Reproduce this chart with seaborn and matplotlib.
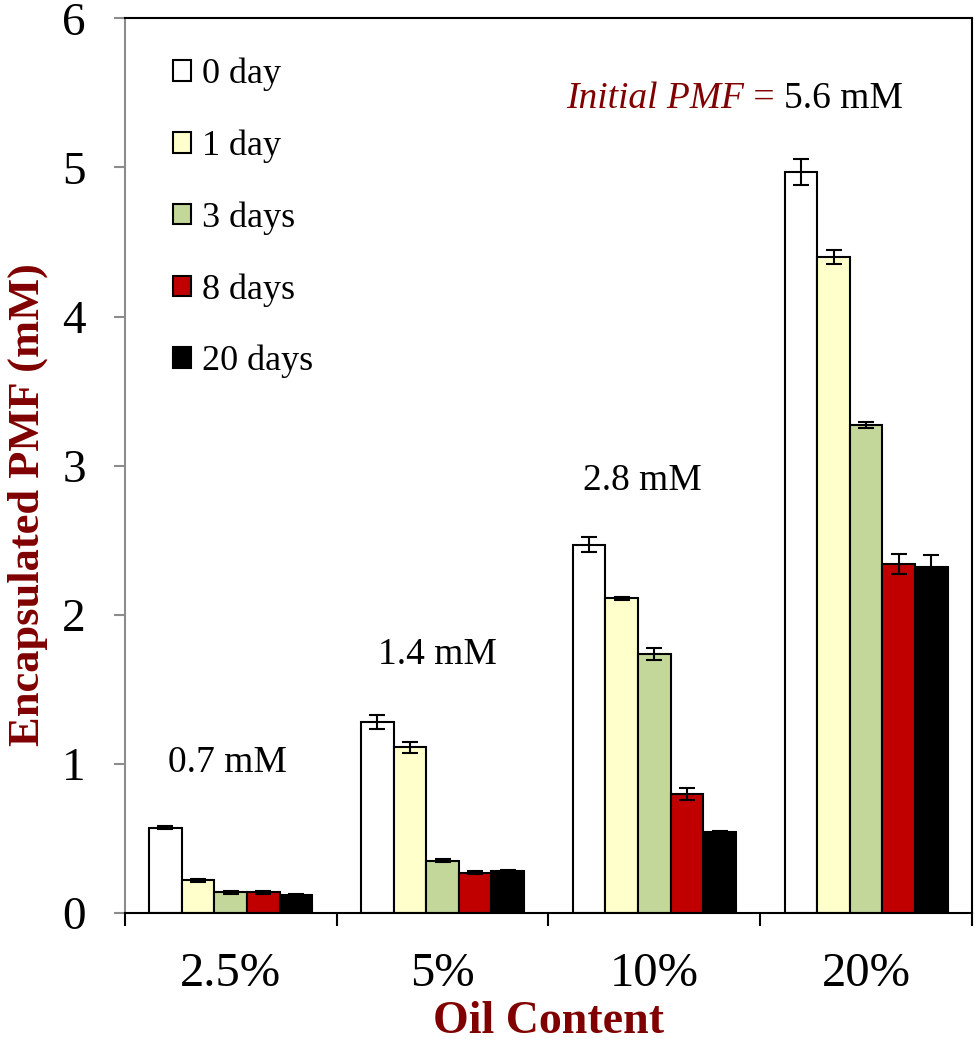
import matplotlib
matplotlib.use("Agg")
import matplotlib.pyplot as plt
from matplotlib.patches import Patch
import seaborn as sns
import pandas as pd
import numpy as np

# data
oil_content = ["2.5%", "5%", "10%", "20%"]
storage = ["0 day", "1 day", "3 days", "8 days", "20 days"]
pmf_0d = [0.57, 1.28, 2.47, 4.97]
pmf_1d = [0.22, 1.11, 2.11, 4.40]
pmf_3d = [0.14, 0.35, 1.74, 3.27]
pmf_8d = [0.14, 0.27, 0.80, 2.34]
pmf_20d = [0.12, 0.28, 0.54, 2.32]
err_0d = [0.01, 0.045, 0.05, 0.09]
err_1d = [0.01, 0.04, 0.01, 0.045]
err_3d = [0.01, 0.01, 0.04, 0.02]
err_8d = [0.01, 0.01, 0.04, 0.065]
err_20d = [0.005, 0.01, 0.01, 0.08]
initial_pmf = ["0.7 mM", "1.4 mM", "2.8 mM"]
colors = ["#FFFFFF", "#FFFFCC", "#C4D79B", "#C00000", "#000000"]

values = [pmf_0d, pmf_1d, pmf_3d, pmf_8d, pmf_20d]
errors = [err_0d, err_1d, err_3d, err_8d, err_20d]

rows = []
for s, vals in zip(storage, values):
    for oc, v in zip(oil_content, vals):
        rows.append({"oil": oc, "storage": s, "pmf": v})
df = pd.DataFrame(rows)

sns.set_theme(style="white")
plt.rcParams["font.family"] = ["Liberation Serif", "DejaVu Serif"]
plt.rcParams["text.color"] = "black"

fig = plt.figure(figsize=(9.75, 10.5), dpi=100)
ax = fig.add_axes([0.128, 0.1305, 0.869, 0.852])

sns.barplot(data=df, x="oil", y="pmf", hue="storage", order=oil_content,
            hue_order=storage, palette=colors, edgecolor="black", linewidth=1.5,
            width=0.77, errorbar=None, saturation=1, legend=False, ax=ax)

# error bars at the bar centres
for cont, errs in zip(ax.containers, errors):
    xs = [p.get_x() + p.get_width() / 2 for p in cont.patches]
    hs = [p.get_height() for p in cont.patches]
    ax.errorbar(xs, hs, yerr=errs, fmt="none", ecolor="black",
                elinewidth=1.5, capsize=6, capthick=1.5, zorder=5)

ax.set_xlim(-0.5, 3.5)
ax.set_ylim(0, 6)
ax.set_yticks(range(0, 7))

for side in ["top", "right", "bottom"]:
    ax.spines[side].set_color("black")
    ax.spines[side].set_linewidth(1.5)
ax.spines["left"].set_color("#8c8c8c")
ax.spines["left"].set_linewidth(1.5)

ax.tick_params(axis="y", which="major", direction="out", length=8, width=1.5,
               color="#8c8c8c", pad=20, labelsize=34, labelcolor="black",
               left=True)
ax.tick_params(axis="x", which="major", length=0, pad=28, labelsize=35,
               labelcolor="black")
ax.set_xticks(np.arange(-0.5, 4.0, 1.0), minor=True)
ax.tick_params(axis="x", which="minor", direction="out", length=9, width=1.5,
               color="black", bottom=True)

dark_red = "#800000"
ax.set_xlabel("Oil Content", fontsize=33, fontweight="bold", color=dark_red,
              labelpad=4)
ax.set_ylabel("Encapsulated PMF (mM)", fontsize=32, fontweight="bold",
              color=dark_red, va="center")
ax.yaxis.set_label_coords(-0.115, 0.457)

# legend with small square handles
handles = [Patch(facecolor=c, edgecolor="black", linewidth=1.5) for c in colors]
ax.legend(handles, storage, loc="upper left", bbox_to_anchor=(0.04, 0.972),
          frameon=False, fontsize=26, handlelength=0.5, handleheight=0.5,
          handletextpad=0.3, labelspacing=1.06, borderaxespad=0)

# initial concentration annotations
ann_x = [0 - 0.014, 1 - 0.024, 2 - 0.057]
ann_y = [1.005, 1.73, 2.90]
for x, y, t in zip(ann_x, ann_y, initial_pmf):
    ax.text(x, y, t, fontsize=27, ha="center", va="center")

t1 = ax.text(0.521, 0.91, "Initial PMF", transform=ax.transAxes,
             fontsize=27, style="italic", color=dark_red, ha="left", va="center")
t2 = ax.annotate(" = ", xy=(1, 0), xycoords=t1, fontsize=27, color=dark_red,
                 ha="left", va="bottom")
ax.annotate("5.6 mM", xy=(1, 0), xycoords=t2, fontsize=27, color="black",
            ha="left", va="bottom")

fig.savefig("out.png", dpi=100)
